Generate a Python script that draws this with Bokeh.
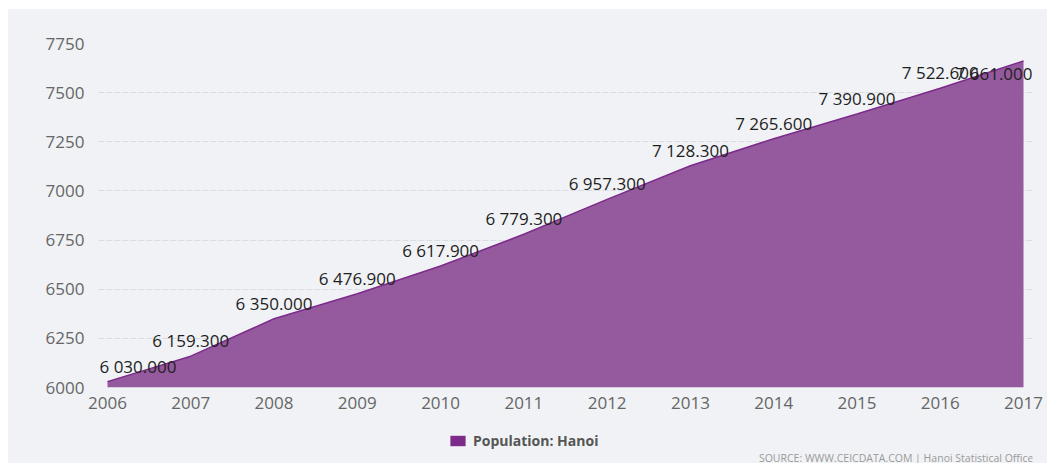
from bokeh.plotting import figure
from bokeh.models import ColumnDataSource, Range1d, FixedTicker, Legend, LegendItem, Label
from bokeh.layouts import column
from bokeh.core.properties import value
from bokeh.embed import file_html
from bokeh.resources import INLINE

# ---- data ----
years = [2006, 2007, 2008, 2009, 2010, 2011, 2012, 2013, 2014, 2015, 2016, 2017]
population = [6030.0, 6159.3, 6350.0, 6476.9, 6617.9, 6779.3, 6957.3, 7128.3,
              7265.6, 7390.9, 7522.6, 7661.0]
y_ticks = [6000, 6250, 6500, 6750, 7000, 7250, 7500, 7750]
series_name = "Population: Hanoi"
source_note = "SOURCE: WWW.CEICDATA.COM | Hanoi Statistical Office"

value_labels = [f"{v:,.3f}".replace(",", " ") for v in population]

BG = "#f0f2f5"
SERIES = "#7d2b8b"
FILL = "#955a9e"
FONT = "Open Sans"

n = len(years)
align = ["center"] * n
align[0] = "left"
align[-1] = "right"
dx = [0] * n
dx[0] = -8
dx[-1] = 9
dy = [-4] * n
dy[-1] = 24

src = ColumnDataSource(dict(x=years, y=population, label=value_labels,
                            align=align, dx=dx, dy=dy))

p = figure(width=1039, height=412, output_backend="svg", toolbar_location=None,
           x_range=Range1d(2005.892, 2017.108), y_range=Range1d(6000, 7750),
           min_border_left=90, min_border_right=15, min_border_top=34,
           min_border_bottom=34, background_fill_color=BG, border_fill_color=BG,
           outline_line_color=None)

p.varea(x="x", y1=p.y_range.start, y2="y", source=src, fill_color=FILL, fill_alpha=1.0)
p.line(x="x", y="y", source=src, line_color=SERIES, line_width=1.5)

p.text(x="x", y="y", text="label", source=src, text_align="align", x_offset="dx",
       y_offset="dy", text_baseline="bottom", text_font=value(FONT),
       text_font_size="17px", text_color="#1e1e1e")

# axes
p.xaxis.ticker = FixedTicker(ticks=years)
p.yaxis.ticker = FixedTicker(ticks=y_ticks)
for ax in (p.xaxis[0], p.yaxis[0]):
    ax.axis_line_color = None
    ax.major_tick_line_color = None
    ax.minor_tick_line_color = None
    ax.major_tick_out = 0
    ax.minor_tick_out = 0
    ax.major_label_text_font = FONT
    ax.major_label_text_font_size = "17px"
    ax.major_label_text_color = "#666666"
p.xaxis.major_label_standoff = 9
p.yaxis.major_label_standoff = 14

p.xgrid.grid_line_color = None
p.ygrid.ticker = FixedTicker(ticks=y_ticks)
p.ygrid.grid_line_color = "#d9dde3"
p.ygrid.grid_line_dash = "6 2"

# ---- legend / source strip (frame aligned with the main plot's frame) ----
strip = figure(width=1039, height=42, output_backend="svg", toolbar_location=None,
               x_range=Range1d(0, 1), y_range=Range1d(0, 1),
               min_border_left=90, min_border_right=15, min_border_top=0,
               min_border_bottom=0, background_fill_color=BG, border_fill_color=BG,
               outline_line_color=None)
strip.axis.visible = False
strip.grid.visible = False
# series renderer for the legend swatch (zero-height, outside the strip's view)
key = strip.varea(x=years, y1=population, y2=population, fill_color=SERIES, fill_alpha=1.0)
legend = Legend(items=[LegendItem(label=series_name, renderers=[key])],
                location=(350, 13), orientation="horizontal", padding=0, margin=0,
                glyph_width=19, glyph_height=13, label_standoff=6,
                label_text_font=FONT, label_text_font_size="14px",
                label_text_font_style="bold", label_text_color="#555555",
                background_fill_alpha=0, border_line_color=None)
strip.add_layout(legend)
strip.add_layout(Label(x=935, y=6, x_units="screen", y_units="screen", text=source_note,
                       text_align="right", text_baseline="middle", text_font=FONT,
                       text_font_size="10.5px", text_color="#9a9a9a"))

layout = column(p, strip, spacing=0, margin=(9, 12, 0, 8),
                styles={"background-color": BG})
open("out.html", "w").write(file_html(layout, INLINE))
